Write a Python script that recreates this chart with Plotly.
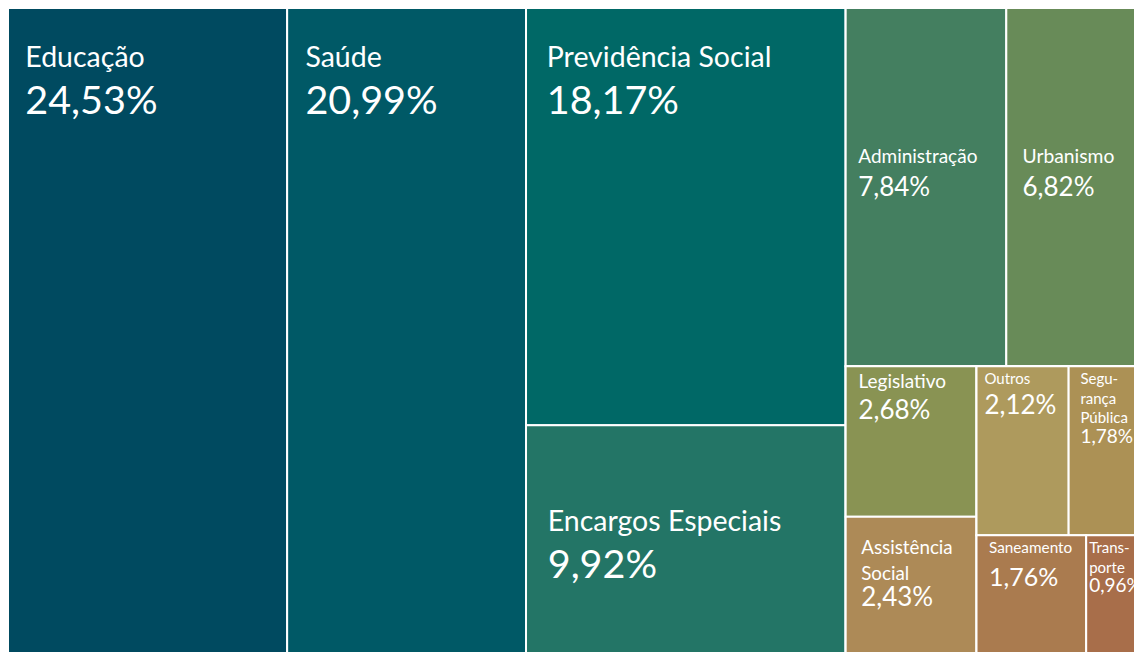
import math
import plotly.graph_objects as go

# ---- data ----
categories = ["Educação", "Saúde", "Previdência Social", "Encargos Especiais",
              "Administração", "Urbanismo", "Legislativo", "Assistência Social",
              "Outros", "Segurança Pública", "Saneamento", "Transporte"]
shares = [24.53, 20.99, 18.17, 9.92, 7.84, 6.82, 2.68, 2.43, 2.12, 1.78, 1.76, 0.96]
display_labels = ["Educação", "Saúde", "Previdência Social", "Encargos Especiais",
                  "Administração", "Urbanismo", "Legislativo", "Assistência<br>Social",
                  "Outros", "Segu-<br>rança<br>Pública", "Saneamento", "Trans-<br>porte"]
tile_colors = ["#004A60", "#005966", "#006866", "#237566", "#447F60", "#688B58",
               "#899353", "#AD8A57", "#AE9A5D", "#AC9155", "#AA7B4F", "#A86E4A"]

# layout grouping (invisible containers)
group_ids = ["total", "prev_enc", "resto", "resto_top", "resto_bottom",
             "leg_assist", "pequenos", "pequenos_top", "pequenos_bottom"]
group_parents = ["", "total", "total", "resto", "resto",
                 "resto_bottom", "resto_bottom", "pequenos", "pequenos"]
leaf_parents = ["total", "total", "prev_enc", "prev_enc", "resto_top", "resto_top",
                "leg_assist", "leg_assist", "pequenos_top", "pequenos_top",
                "pequenos_bottom", "pequenos_bottom"]
node_order = ["total", "Educação", "Saúde", "prev_enc", "Previdência Social",
              "Encargos Especiais", "resto", "resto_top", "Administração", "Urbanismo",
              "resto_bottom", "leg_assist", "Legislativo", "Assistência Social",
              "pequenos", "pequenos_top", "Outros", "Segurança Pública",
              "pequenos_bottom", "Saneamento", "Transporte"]

# ---- text styles per tile:
# (base size, label size, pct size, spacer glyph size, spacer lines, indent px)
styles = {
    "Educação": (36, 28.5, 39.5, 9, 1, 14.5),
    "Saúde": (36, 28.5, 39.5, 9, 1, 15.5),
    "Previdência Social": (36, 28.5, 39.5, 9, 1, 18),
    "Encargos Especiais": (36, 28.5, 39.5, 9, 2, 19),
    "Administração": (25, 19, 26, 22, 4, 9.7),
    "Urbanismo": (25, 19.3, 26, 22, 4, 13.4),
    "Legislativo": (24, 19, 26, 0, 0, 9.9),
    "Assistência Social": (20, 18.8, 26, 8, 1, 12.7),
    "Outros": (23, 15, 26, 0, 0, 5),
    "Segurança Pública": (15, 15, 19, 0, 0, 8.9),
    "Saneamento": (25, 15.3, 25, 0, 0, 9.6),
    "Transporte": (15, 15, 19, 0, 0, 0),
}

NB = "\u00a0"
NB_EM = 0.26  # approximate width of a no-break space in Lato (em)


def indent_span(px, ls):
    if px <= 0:
        return ""
    count = max(1, math.ceil(px / (NB_EM * ls)))
    size = px / (NB_EM * count)
    return f'<span style="font-size:{size:.2f}px">{NB * count}</span>'


def tile_text(cat, disp, val):
    base, ls, ps, ss, n_sp, ind = styles[cat]
    pct = f"{val:.2f}".replace(".", ",") + "%"
    indent = indent_span(ind, ls)
    parts = []
    if ss:
        parts.append(f'<span style="font-size:{ss}px">{NB}</span>' + "<br>" * (n_sp - 1))
    for line in disp.split("<br>"):
        parts.append(indent + f'<span style="font-size:{ls}px">{line}</span>')
    parts.append(indent + f'<span style="font-size:{ps}px">{pct}</span>')
    return "<br>".join(parts), base


leaf_info = {}
for c, d, v, col, p in zip(categories, display_labels, shares, tile_colors, leaf_parents):
    t, b = tile_text(c, d, v)
    leaf_info[c] = dict(parent=p, value=v, color=col, text=t, size=b)
for g, gp in zip(group_ids, group_parents):
    leaf_info[g] = dict(parent=gp, value=0, color="#ffffff", text="", size=12)

ids = node_order
parents = [leaf_info[i]["parent"] for i in ids]
values = [leaf_info[i]["value"] for i in ids]
colors = [leaf_info[i]["color"] for i in ids]
texts = [leaf_info[i]["text"] for i in ids]
sizes = [leaf_info[i]["size"] for i in ids]

fig = go.Figure(go.Treemap(
    ids=ids,
    labels=ids,
    parents=parents,
    values=values,
    branchvalues="remainder",
    sort=False,
    text=texts,
    textinfo="text",
    texttemplate="%{text}",
    textposition="top left",
    textfont=dict(family="Lato", color="white", size=sizes),
    marker=dict(colors=colors, line=dict(color="white", width=2),
                pad=dict(t=0, l=0, r=0, b=0), depthfade=False),
    tiling=dict(packing="slice-dice", pad=0),
    pathbar=dict(visible=False),
    hoverinfo="skip",
    root=dict(color="white"),
))

fig.update_layout(
    width=1138, height=645, autosize=False,
    margin=dict(l=0, r=0, t=0, b=0),
    paper_bgcolor="white",
)

# the chart runs past the window edge (as in the reference); clip it to the page
fig.write_html(
    "out.html",
    post_script=(
        "var gd=document.getElementById('{plot_id}');"
        "var w=gd.parentElement;"
        "w.style.width='1126px';w.style.height='644px';w.style.overflow='hidden';"
        "document.body.style.margin='8px 0 0 8px';"
        "document.documentElement.style.overflow='hidden';"
        "document.body.style.overflow='hidden';"
    ),
)
